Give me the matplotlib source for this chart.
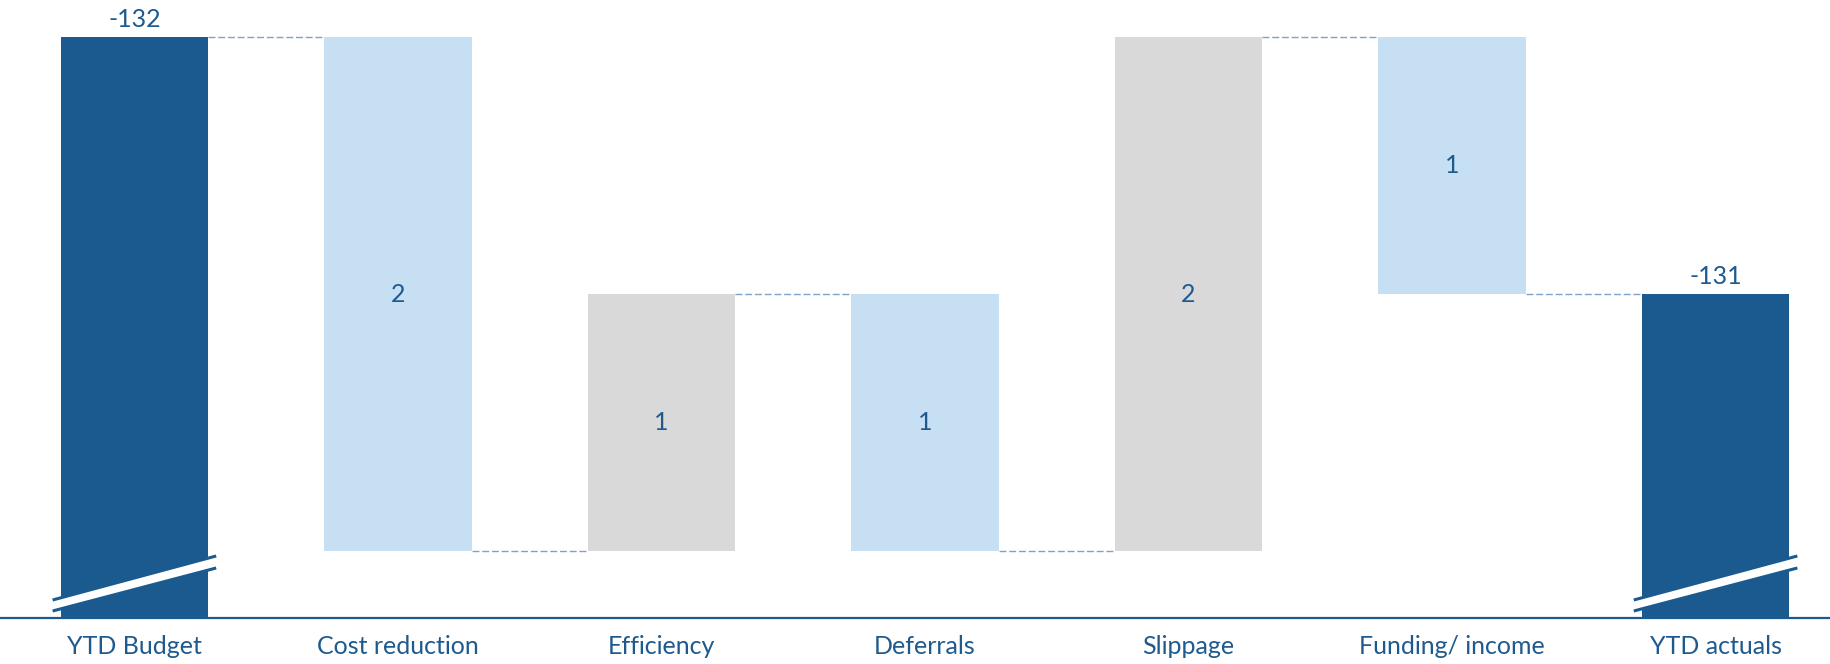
import numpy as np
import matplotlib.pyplot as plt
from matplotlib.patches import Polygon

plt.rcParams['font.family'] = ['Lato', 'DejaVu Sans']

categories = ['YTD Budget', 'Cost reduction', 'Efficiency', 'Deferrals',
              'Slippage', 'Funding/ income', 'YTD actuals']
ytd_budget = -132
ytd_actuals = -131
movements = [2, -1, 1, -2, 1]   # +ve = favourable, -ve = adverse

DARK = '#1b5a8f'
LIGHT = '#c7dff3'
GREY = '#d9d9d9'
TEXT = '#1f5a8f'
CONNECT = '#7fa3c4'

# spend is shown as a positive magnitude, so plot -value
y_base = 129.74
y_top = 132.144
width = 0.56

fig = plt.figure(figsize=(18.31, 6.64), dpi=100)
ax = fig.add_axes([0, 1 - 618 / 664, 1, 618 / 664])
ax.set_xlim(-0.51, 6.438)
ax.set_ylim(y_base, y_top)

x = np.arange(len(categories))
levels = [ytd_budget]
for m in movements:
    levels.append(levels[-1] + m)

# totals
for xi, val in [(x[0], ytd_budget), (x[-1], ytd_actuals)]:
    ax.bar(xi, -val - y_base, bottom=y_base, width=width, color=DARK, zorder=2)
    ax.text(xi, -val + 0.025, f'{val}', ha='center', va='bottom',
            fontsize=18, color=TEXT)

# movements
for i, m in enumerate(movements):
    start, end = -levels[i], -levels[i + 1]
    lo, hi = min(start, end), max(start, end)
    ax.bar(x[i + 1], hi - lo, bottom=lo, width=width,
           color=LIGHT if m > 0 else GREY, zorder=2)
    ax.text(x[i + 1], (lo + hi) / 2, str(abs(m)), ha='center', va='center',
            fontsize=18, color=TEXT)

# dashed connectors between bars
all_levels = levels + [ytd_actuals]
for i in range(len(categories) - 1):
    lvl = -all_levels[i]
    ax.plot([x[i] + width / 2, x[i + 1] - width / 2], [lvl, lvl],
            color=CONNECT, lw=1, ls=(0, (5, 2)), zorder=1)

# axis-break marks on the total bars
px_x, px_y = 263.5, 257.0
for xi in (x[0], x[-1]):
    x0 = xi - width / 2 - 8 / px_x
    x1 = xi + width / 2 + 8 / px_x
    lo0, lo1 = y_base + 7 / px_y, y_base + 50 / px_y
    hi0, hi1 = y_base + 18 / px_y, y_base + 62 / px_y
    ax.add_patch(Polygon([[x0, lo0], [x1, lo1], [x1, hi1], [x0, hi0]],
                         closed=True, facecolor='white', edgecolor='none', zorder=3))
    ax.plot([x0, x1], [lo0, lo1], color=DARK, lw=2.2, zorder=4, solid_capstyle='butt')
    ax.plot([x0, x1], [hi0, hi1], color=DARK, lw=2.2, zorder=4, solid_capstyle='butt')

for s in ['top', 'left', 'right']:
    ax.spines[s].set_visible(False)
ax.spines['bottom'].set_color(DARK)
ax.spines['bottom'].set_linewidth(1.6)
ax.set_yticks([])
ax.set_xticks(x)
ax.set_xticklabels(categories, fontsize=18, color=TEXT)
ax.tick_params(axis='x', length=0, pad=12)

plt.savefig('out.png', dpi=100)
